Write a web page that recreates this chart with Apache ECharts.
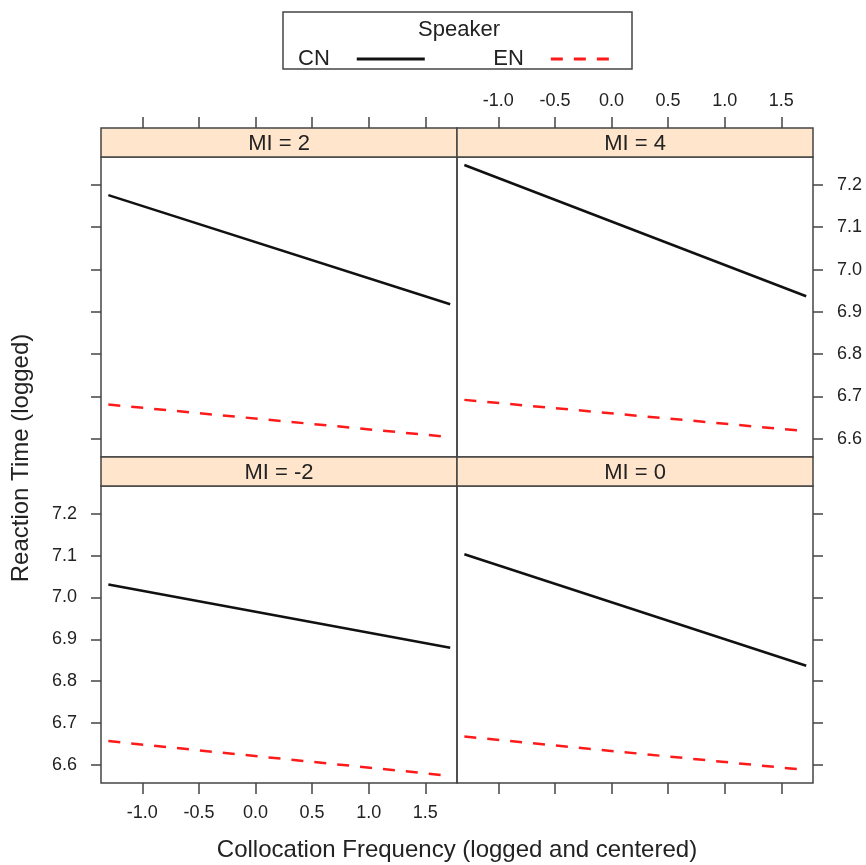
<!DOCTYPE html>
<html>
<head>
<meta charset="utf-8">
<title>Reaction time by collocation frequency</title>
<script src="https://cdn.jsdelivr.net/npm/echarts@6/dist/echarts.min.js"></script>
<style>
  html, body { margin: 0; padding: 0; background: #fff; }
  #chart { width: 866px; height: 865px; }
</style>
</head>
<body>
<div id="chart"></div>
<script>
// data
const xTicks = [-1.0, -0.5, 0.0, 0.5, 1.0, 1.5];
const yTicks = [6.6, 6.7, 6.8, 6.9, 7.0, 7.1, 7.2];
const panels = ["MI = -2", "MI = 0", "MI = 2", "MI = 4"];
const freqRange = [-1.3, 1.72];
const cnValues = [
  [7.031, 6.880],
  [7.103, 6.837],
  [7.176, 6.918],
  [7.247, 6.937],
];
const enValues = [
  [6.657, 6.574],
  [6.668, 6.588],
  [6.681, 6.604],
  [6.692, 6.618],
];

const font = "Liberation Sans";
const ink = "#222";
const frame = "#444";

// lattice cells: bottom row first, like lattice does
const cells = [
  { left: 101, top: 486, height: 297, xPos: "bottom", xLab: true, yPos: "left", yLab: true },
  { left: 457, top: 486, height: 297, xPos: "bottom", xLab: false, yPos: "right", yLab: false },
  { left: 101, top: 157, height: 300, xPos: "top", xLab: false, yPos: "left", yLab: false },
  { left: 457, top: 157, height: 300, xPos: "top", xLab: true, yPos: "right", yLab: true },
];
const stripH = 29;
const cellW = 356;

const grid = [], xAxis = [], yAxis = [], series = [], graphic = [];

cells.forEach(function (c, i) {
  grid.push({
    left: c.left, top: c.top, width: cellW, height: c.height,
    show: true, borderColor: frame, borderWidth: 1.5,
  });
  xAxis.push({
    type: "value", gridIndex: i, min: -1.365, max: 1.78,
    position: c.xPos, offset: c.xPos === "top" ? stripH : 0,
    axisLine: { show: false, onZero: false },
    splitLine: { show: false },
    axisTick: { show: true, length: 11, customValues: xTicks, lineStyle: { color: frame, width: 1.5 } },
    axisLabel: {
      show: c.xLab, customValues: xTicks, margin: c.xPos === "top" ? 18 : 21,
      formatter: function (v) { return v.toFixed(1); },
      fontFamily: font, fontSize: 18, color: ink,
    },
  });
  yAxis.push({
    type: "value", gridIndex: i, min: 6.557, max: 7.266,
    position: c.yPos,
    axisLine: { show: false, onZero: false },
    splitLine: { show: false },
    axisTick: { show: true, length: 10, customValues: yTicks, lineStyle: { color: frame, width: 1.5 } },
    axisLabel: {
      show: c.yLab, customValues: yTicks, margin: 24,
      formatter: function (v) { return v.toFixed(1); },
      fontFamily: font, fontSize: 18, color: ink,
    },
  });
  series.push({
    name: "CN", type: "line", xAxisIndex: i, yAxisIndex: i,
    symbol: "none", silent: true,
    data: freqRange.map(function (x, k) { return [x, cnValues[i][k]]; }),
    lineStyle: { color: "#111", width: 2.5, type: "solid" },
    itemStyle: { color: "#111" },
  });
  series.push({
    name: "EN", type: "line", xAxisIndex: i, yAxisIndex: i,
    symbol: "none", silent: true,
    data: freqRange.map(function (x, k) { return [x, enValues[i][k]]; }),
    lineStyle: { color: "#ff1a1a", width: 2.5, type: [12, 11] },
    itemStyle: { color: "#ff1a1a" },
  });

  // strip above each panel
  graphic.push({
    type: "rect",
    shape: { x: c.left, y: c.top - stripH, width: cellW, height: stripH },
    style: { fill: "#ffe5cc", stroke: frame, lineWidth: 1.5 },
  });
  graphic.push({
    type: "text",
    x: c.left + cellW / 2, y: c.top - stripH / 2 + 1,
    style: {
      text: panels[i], fill: ink, font: "22px " + font,
      align: "center", verticalAlign: "middle",
    },
  });
});

// legend box and its title
graphic.push({
  type: "rect",
  shape: { x: 283, y: 12, width: 349, height: 57 },
  style: { fill: "#fff", stroke: frame, lineWidth: 1.5 },
});
graphic.push({
  type: "text", x: 459, y: 30,
  style: { text: "Speaker", fill: ink, font: "22px " + font, align: "center", verticalAlign: "middle" },
});

// axis titles
graphic.push({
  type: "text", x: 21, y: 458, rotation: Math.PI / 2,
  style: { text: "Reaction Time (logged)", fill: ink, font: "24px " + font, align: "center", verticalAlign: "middle" },
});
graphic.push({
  type: "text", x: 457, y: 850,
  style: { text: "Collocation Frequency (logged and centered)", fill: ink, font: "24px " + font, align: "center", verticalAlign: "middle" },
});

const chart = echarts.init(document.getElementById("chart"), null, { renderer: "canvas" });
chart.setOption({
  animation: false,
  backgroundColor: "#fff",
  grid: grid,
  xAxis: xAxis,
  yAxis: yAxis,
  legend: {
    data: ["CN", "EN"],
    left: 293, top: 43,
    align: "right",
    itemWidth: 68, itemHeight: 20, itemGap: 67,
    itemStyle: { opacity: 0 },
    lineStyle: { width: 3 },
    textStyle: { fontFamily: font, fontSize: 22, color: ink, padding: [2, 22, 0, 0] },
    z: 10,
  },
  graphic: { elements: graphic },
  series: series,
});
</script>
</body>
</html>
